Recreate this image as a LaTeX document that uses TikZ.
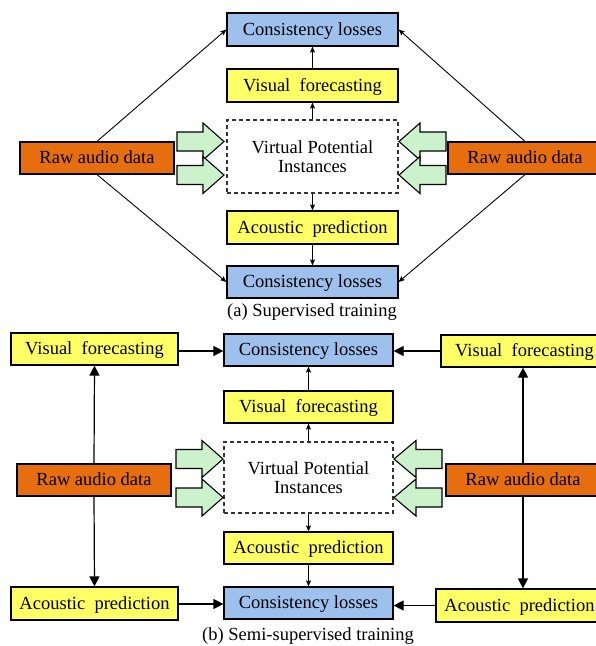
\documentclass[tikz,border=0pt]{standalone}
\usepackage{fontspec}
\setmainfont{Liberation Serif}
\usetikzlibrary{arrows.meta}
\definecolor{cblue}{RGB}{157,192,236}
\definecolor{cyel}{RGB}{255,255,102}
\definecolor{corange}{RGB}{230,110,14}
\definecolor{cgreen}{RGB}{204,242,204}
\tikzset{
  x=1pt,y=-1pt,
  every node/.style={font=\fontsize{18.5}{19}\selectfont, inner sep=0pt},
  bx/.style={draw=black, line width=1.2pt, minimum height=32pt, text height=13pt, text depth=2pt},
  consbox/.style={bx, fill=cblue},
  yelbox/.style={bx, fill=cyel},
  rawbox/.style={bx, fill=corange, minimum width=154pt},
  vpibox/.style={draw=black!80, line width=1.2pt, dash pattern=on 4pt off 3pt, fill=white, align=center},
  thin arr/.style={line width=0.9pt, -{Stealth[length=6pt,width=5pt,inset=1pt]}},
  big arr/.style={line width=1.2pt, -{Triangle[length=10pt,width=10pt]}},
  blockarr/.style={draw=black, line width=1.1pt, fill=cgreen, line join=miter},
}
\newcommand{\rarr}[4]{% body start x, head base x, tip x, center y
  \filldraw[blockarr] (#1,#4-9.5) -- (#2,#4-9.5) -- (#2,#4-18.5) -- (#3,#4) -- (#2,#4+18.5) -- (#2,#4+9.5) -- (#1,#4+9.5) -- cycle;}
\begin{document}
\begin{tikzpicture}
\clip (0,0) rectangle (596,646);
\fill[white] (0,0) rectangle (596,646);
% ---------------- (a) ----------------
\node[consbox, minimum width=171pt, minimum height=33pt] (cA1) at (312.5,29.5) {Consistency losses};
\node[yelbox, minimum width=171pt, minimum height=33pt] (vA) at (312.5,85.5) {Visual\ \ forecasting};
\node[vpibox, minimum width=171pt, minimum height=73pt] (vpiA) at (312.5,156.5) {Virtual Potential\\Instances};
\node[yelbox, minimum width=171pt, minimum height=33pt] (aA) at (312.5,227.5) {Acoustic\ \ prediction};
\node[consbox, minimum width=171pt] (cA2) at (312.5,282) {Consistency losses};
\node[rawbox] (rAL) at (97,158) {Raw audio data};
\node[rawbox] (rAR) at (525,158) {Raw audio data};
\node (capA) at (312,312) {(a) Supervised training};
\draw[thin arr] (rAL.north) -- (cA1.west);
\draw[thin arr] (rAL.south) -- (cA2.west);
\draw[thin arr] (rAR.north) -- (cA1.east);
\draw[thin arr] (rAR.south) -- (cA2.east);
\draw[thin arr] (vpiA.north) -- (vA.south);
\draw[thin arr] (vA.north) -- (cA1.south);
\draw[thin arr] (vpiA.south) -- (aA.north);
\draw[thin arr] (aA.south) -- (cA2.north);
\rarr{177}{203}{224}{141.5}
\rarr{177}{203}{224}{175}
\rarr{446}{420}{399}{141.5}
\rarr{446}{420}{399}{175}
% ---------------- (b) ----------------
\node[consbox, minimum width=169pt] (cB1) at (308.5,350) {Consistency losses};
\node[yelbox, minimum width=169pt] (vB) at (308.5,407) {Visual\ \ forecasting};
\node[vpibox, minimum width=169pt, minimum height=71pt] (vpiB) at (308.5,477.5) {Virtual Potential\\Instances};
\node[yelbox, minimum width=169pt] (aB) at (308.5,548) {Acoustic\ \ prediction};
\node[consbox, minimum width=169pt] (cB2) at (308.5,603) {Consistency losses};
\node[yelbox, minimum width=167pt] (vL) at (94.5,349) {Visual\ \ forecasting};
\node[rawbox] (rBL) at (94,480) {Raw audio data};
\node[yelbox, minimum width=167pt, minimum height=33pt] (aL) at (94.5,603.5) {Acoustic\ \ prediction};
\node[yelbox, minimum width=167pt] (vR) at (524.5,351) {Visual\ \ forecasting};
\node[rawbox] (rBR) at (523,480) {Raw audio data};
\node[yelbox, minimum width=167pt, minimum height=33pt] (aR) at (519.5,605.5) {Acoustic\ \ prediction};
\node (capB) at (308,636) {(b) Semi-supervised training};
\draw[big arr] (rBL.north) -- (vL.south);
\draw[big arr] (rBL.south) -- (aL.north);
\draw[big arr] (rBR.north -| 523,0) -- (vR.south -| 523,0);
\draw[big arr] (rBR.south -| 523,0) -- (aR.north -| 523,0);
\draw[big arr] (vL.east |- 0,351) -- (cB1.west |- 0,351);
\draw[big arr] (aL.east |- 0,604) -- (cB2.west |- 0,604);
\draw[big arr] (vR.west) -- (cB1.east |- vR.west);
\draw[big arr] (aR.west) -- (cB2.east |- aR.west);
\draw[thin arr] (vpiB.north) -- (vB.south);
\draw[thin arr] (vB.north) -- (cB1.south);
\draw[thin arr] (vpiB.south) -- (aB.north);
\draw[thin arr] (aB.south) -- (cB2.north);
\rarr{176}{202}{223}{459}
\rarr{176}{202}{223}{497.5}
\rarr{442}{416}{394}{459}
\rarr{442}{416}{394}{497.5}
\end{tikzpicture}
\end{document}
